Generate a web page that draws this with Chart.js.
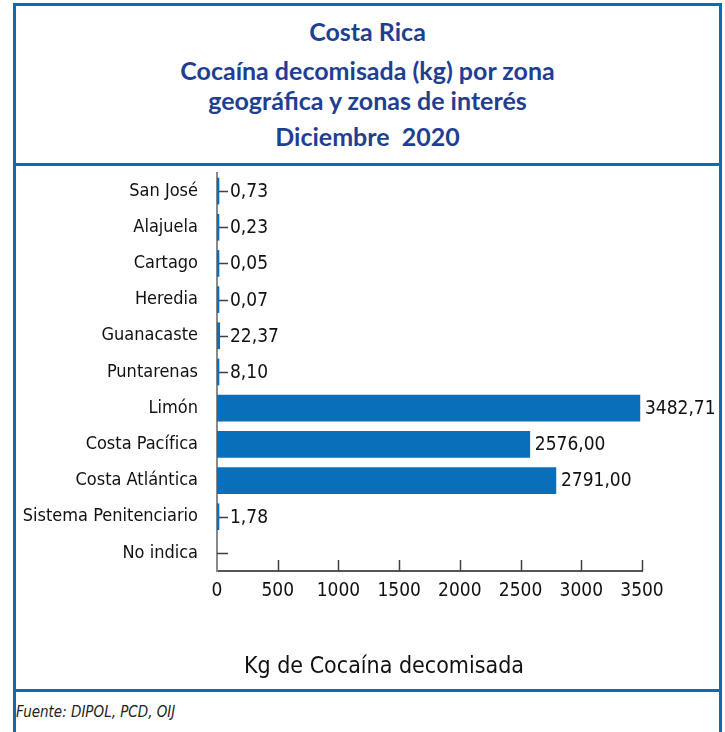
<!DOCTYPE html>
<html lang="es">
<head>
<meta charset="utf-8">
<title>Cocaína decomisada por zona - Diciembre 2020</title>
<script src="https://cdn.jsdelivr.net/npm/chart.js@4.4.1/dist/chart.umd.min.js"></script>
<style>
    body {
        margin: 0;
        width: 725px;
        height: 732px;
        overflow: hidden;
        background: #fff;
        position: relative;
    }
    .line {
        position: absolute;
        background: #0b6cb6;
    }
    .title {
        position: absolute;
        left: 16px;
        width: 703px;
        text-align: center;
        font-family: Lato, "Open Sans", sans-serif;
        font-weight: 700;
        font-size: 25px;
        color: #1f3f93;
        line-height: 30px;
    }
    .axis-title {
        position: absolute;
        left: 184px;
        width: 400px;
        top: 648px;
        text-align: center;
        font-family: "DejaVu Sans Condensed", sans-serif;
        font-size: 23px;
        line-height: 34px;
        color: #111;
    }
    .source {
        position: absolute;
        left: 16px;
        top: 703px;
        font-family: "DejaVu Sans Condensed", sans-serif;
        font-style: italic;
        font-size: 15px;
        color: #222;
    }
    #chartWrap {
        position: absolute;
        left: 16px;
        top: 166px;
        width: 703px;
        height: 523px;
    }
</style>
</head>
<body>
<!-- Frame lines -->
<div class="line" style="left:13px; top:3px; width:709px; height:3px;"></div>
<div class="line" style="left:13px; top:3px; width:3px; height:729px;"></div>
<div class="line" style="left:719px; top:3px; width:3px; height:729px;"></div>
<div class="line" style="left:13px; top:163px; width:709px; height:3px;"></div>
<div class="line" style="left:13px; top:689px; width:709px; height:3px;"></div>

<!-- Title block -->
<div class="title" style="top:16px;">Costa Rica</div>
<div class="title" style="top:55px;">Cocaína decomisada (kg) por zona</div>
<div class="title" style="top:85px;">geográfica y zonas de interés</div>
<div class="title" style="top:121px;">Diciembre&nbsp; 2020</div>

<div id="chartWrap"><canvas id="chart" width="703" height="523"></canvas></div>

<div class="axis-title">Kg de Cocaína decomisada</div>
<div class="source">Fuente: DIPOL, PCD, OIJ</div>

<script>
// Data
const zonas = ['San José', 'Alajuela', 'Cartago', 'Heredia', 'Guanacaste', 'Puntarenas',
    'Limón', 'Costa Pacífica', 'Costa Atlántica', 'Sistema Penitenciario', 'No indica'];
const kilos = [0.73, 0.23, 0.05, 0.07, 22.37, 8.10, 3482.71, 2576.00, 2791.00, 1.78, null];
const xTicks = [0, 500, 1000, 1500, 2000, 2500, 3000, 3500];

const narrowFont = '"DejaVu Sans Condensed", "Liberation Sans Narrow", sans-serif';

// Small tick marks drawn inward from both axes (under the bars)
const innerTicks = {
    id: 'innerTicks',
    beforeDatasetsDraw(chart) {
        const ctx = chart.ctx;
        const x = chart.scales.x;
        const y = chart.scales.y;
        ctx.save();
        ctx.strokeStyle = '#404040';
        ctx.lineWidth = 1.5;
        ctx.beginPath();
        zonas.forEach((z, i) => {
            const py = Math.round(y.getPixelForTick(i)) + 0.5;
            ctx.moveTo(x.left, py);
            ctx.lineTo(x.left + 11, py);
        });
        xTicks.forEach(v => {
            if (v === 0) return;
            const px = Math.round(x.getPixelForValue(v)) + 0.5;
            ctx.moveTo(px, y.bottom);
            ctx.lineTo(px, y.bottom - 11);
        });
        ctx.stroke();
        ctx.restore();
    }
};

// Value labels to the right of each bar
const valueLabels = {
    id: 'valueLabels',
    afterDatasetsDraw(chart) {
        const ctx = chart.ctx;
        const meta = chart.getDatasetMeta(0);
        const axisX = chart.scales.x.left;
        ctx.save();
        ctx.font = '19px ' + narrowFont;
        ctx.fillStyle = '#111';
        ctx.textBaseline = 'middle';
        ctx.textAlign = 'left';
        meta.data.forEach((bar, i) => {
            const v = kilos[i];
            if (v === null) return;
            const txt = v.toFixed(2).replace('.', ',');
            const tx = Math.max(bar.x + 5, axisX + 13);
            ctx.fillText(txt, tx, bar.y + 1);
        });
        ctx.restore();
    }
};

const ctx = document.getElementById('chart');

new Chart(ctx, {
    type: 'bar',
    data: {
        labels: zonas,
        datasets: [{
            data: kilos,
            backgroundColor: '#0a6fbb',
            barThickness: 26,
            minBarLength: 2
        }]
    },
    options: {
        indexAxis: 'y',
        responsive: false,
        animation: false,
        layout: {
            padding: { left: 0, right: 77, top: 7, bottom: 0 }
        },
        plugins: {
            legend: { display: false },
            tooltip: { enabled: false }
        },
        scales: {
            x: {
                min: 0,
                max: 3500,
                afterBuildTicks(scale) {
                    scale.ticks = xTicks.map(v => ({ value: v }));
                },
                afterFit(scale) {
                    scale.height = 118;
                },
                grid: { display: false, drawTicks: false },
                border: { display: true, color: '#555', width: 2 },
                ticks: {
                    padding: 9,
                    color: '#111',
                    font: { family: narrowFont, size: 19 },
                    maxRotation: 0,
                    callback: v => String(v)
                }
            },
            y: {
                afterFit(scale) {
                    scale.width = 201;
                    scale.paddingTop = 0;
                    scale.paddingBottom = 0;
                },
                grid: { display: false, drawTicks: false },
                border: { display: true, color: '#8a8a8a', width: 2 },
                ticks: {
                    padding: 19,
                    color: '#111',
                    font: { family: narrowFont, size: 18 }
                }
            }
        }
    },
    plugins: [innerTicks, valueLabels]
});
</script>
</body>
</html>
